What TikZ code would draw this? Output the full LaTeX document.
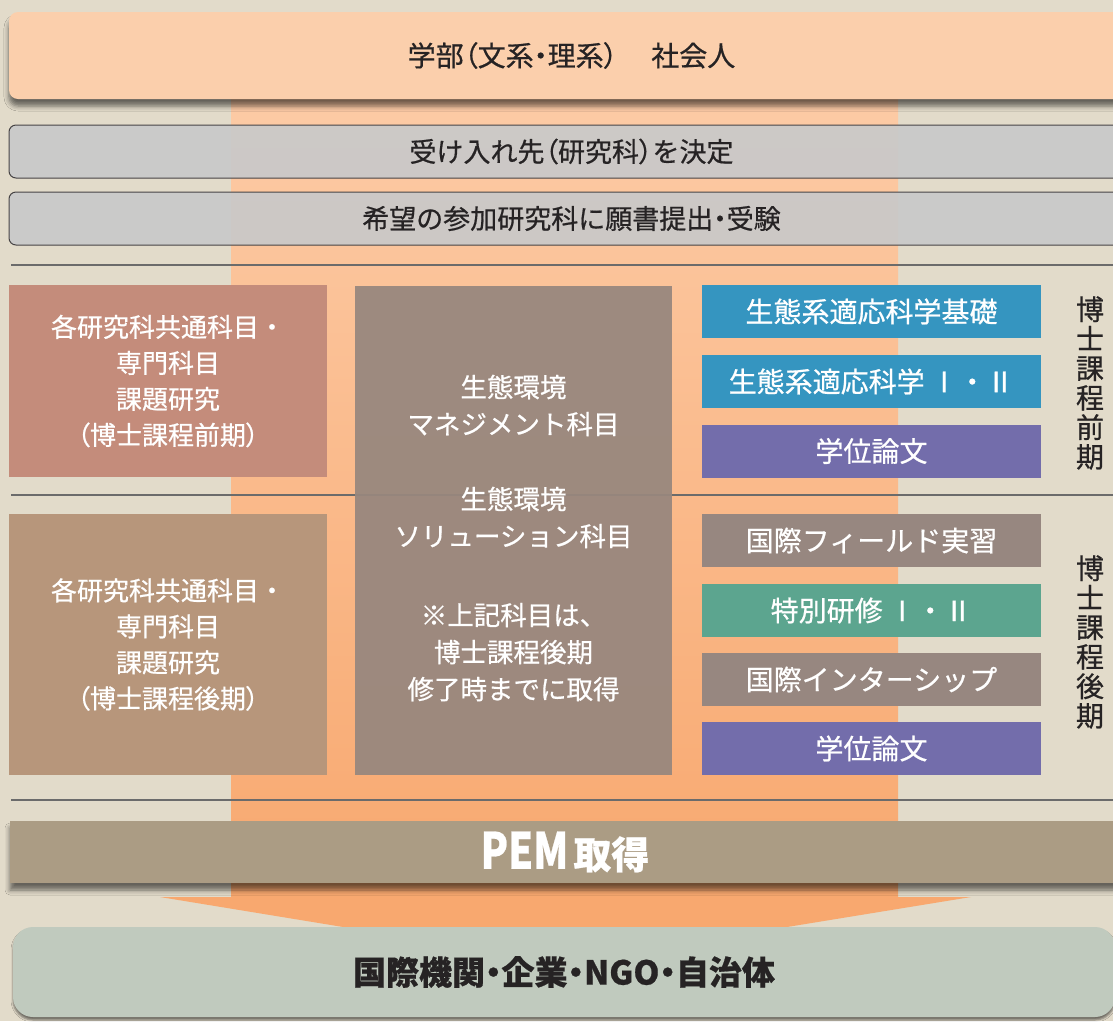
\documentclass[tikz,border=0pt]{standalone}
\usepackage{fontspec}
\setmainfont{Noto Sans CJK JP}[FakeBold=0.6]
\newfontfamily\jpalt{Noto Sans CJK JP}[RawFeature=+palt, FakeBold=0.6]
\newcommand{\jlp}{{\jpalt （}}
\newcommand{\jrp}{{\jpalt ）}}
\newcommand{\jdot}{{\jpalt ・}}
\usetikzlibrary{shadows.blur}
\definecolor{bgbeige}{HTML}{E2DBCA}
\definecolor{topfill}{HTML}{FBCFAC}
\definecolor{greyfill}{HTML}{C9C9C9}
\definecolor{leftafill}{HTML}{C48C7B}
\definecolor{leftbfill}{HTML}{B7967B}
\definecolor{midfill}{HTML}{98877E}
\definecolor{bluefill}{HTML}{3595C0}
\definecolor{purplefill}{HTML}{736DAB}
\definecolor{taupefill}{HTML}{978780}
\definecolor{greenfill}{HTML}{5CA58F}
\definecolor{pemfill}{HTML}{AB9C84}
\definecolor{tealfill}{HTML}{C0CABE}
\definecolor{linegray}{HTML}{6B6B6B}
\definecolor{bandtop}{HTML}{FCCBA6}
\definecolor{bandbottom}{HTML}{F8A86F}
\definecolor{textdark}{HTML}{262324}
\tikzset{
  box/.style={inner sep=0pt, outer sep=0pt, align=center},
  stepbar/.style={box, draw=textdark!85, line width=1pt, fill=greyfill, fill opacity=.93, text opacity=1,
    rounded corners=7pt, minimum height=53pt, text=textdark, font=\fontsize{27}{30}\selectfont},
  leftbox/.style={box, minimum width=318pt, text=white, font=\fontsize{26}{36}\selectfont},
  subject/.style={box, minimum width=339pt, minimum height=53pt, text=white, font=\fontsize{28}{30}\selectfont},
  phase/.style={box, text=textdark, font=\fontsize{28}{29.5}\selectfont},
  rule/.style={draw=linegray, line width=2pt},
  soft shadow/.style={blur shadow={shadow xshift=0pt, shadow yshift=-7pt, shadow blur radius=5pt, shadow opacity=55}}
}
\begin{document}
\begin{tikzpicture}[x=1pt, y=-1pt]
\useasboundingbox (0,0) rectangle (1113,1021);
\clip (0,0) rectangle (1113,1021);
\fill[bgbeige] (0,0) rectangle (1113,1021);
% orange band and arrow
\shade[top color=bandtop, bottom color=bandbottom] (231,90) rectangle (898,898);
\fill[bandbottom] (160,897) -- (971,897) -- (738,935) -- (392,935) -- cycle;
% rules
\draw[rule] (11,265) -- (1113,265);
\draw[rule] (11,495) -- (1113,495);
\draw[rule] (11,800) -- (1113,800);
% top
\node[box, fill=topfill, rounded corners=9pt, soft shadow, minimum width=1125pt, minimum height=87pt,
  text=textdark, font=\fontsize{28}{30}\selectfont] (entry) at (571.5,55.5) {学部\jlp 文系\jdot 理系\jrp\hspace{1.2em}社会人};
\node[stepbar, minimum width=1125pt] (accept) at (571.5,151.5) {受け入れ先\jlp 研究科\jrp を決定};
\node[stepbar, minimum width=1125pt] (apply) at (571.5,218.5) {希望の参加研究科に願書提出\jdot 受験};
% left column
\node[leftbox, fill=leftafill, minimum height=192pt] (commonA) at (168,381)
  {各研究科共通科目・\\専門科目\\課題研究\\\jlp 博士課程前期\jrp};
\node[leftbox, fill=leftbfill, minimum height=261pt] (commonB) at (168,644.5)
  {各研究科共通科目・\\専門科目\\課題研究\\\jlp 博士課程後期\jrp};
% middle column
\node[box, fill=midfill, fill opacity=.94, minimum width=317pt, minimum height=489pt] (eco) at (513.5,530.5) {};
\node[box, text=white, font=\fontsize{26.5}{37}\selectfont] (ecotext) at (513.5,538)
  {生態環境\\マネジメント科目\\[38pt]生態環境\\ソリューション科目\\[42pt]※上記科目は、\\博士課程後期\\修了時までに取得};
% right column
\node[subject, fill=bluefill] (basic) at (871.5,311.5) {生態系適応科学基礎};
\node[subject, fill=bluefill] (adapt) at (871.5,381.5) {生態系適応科学\hspace{.2em}Ⅰ・Ⅱ};
\node[subject, fill=purplefill] (thesisA) at (871.5,451) {学位論文};
\node[subject, fill=taupefill] (field) at (871.5,540.5) {国際フィールド実習};
\node[subject, fill=greenfill] (special) at (871.5,610.5) {特別研修\hspace{.2em}Ⅰ・Ⅱ};
\node[subject, fill=taupefill] (intern) at (871.5,679.5) {国際インターシップ};
\node[subject, fill=purplefill] (thesisB) at (871.5,748.5) {学位論文};
% phases
\node[phase] (early) at (1090,383) {博\\士\\課\\程\\前\\期};
\node[phase] (late) at (1090,642) {博\\士\\課\\程\\後\\期};
% bottom
\node[box, fill=pemfill, soft shadow, minimum width=1110pt, minimum height=62pt, text=white,
  font=\fontsize{50}{52}\bfseries\selectfont] (pem) at (565,852) {\scalebox{.8}[1]{PEM}\hspace{.1em}{\fontsize{38}{40}\selectfont 取得}};
\node[box, fill=tealfill, rounded corners=20pt, blur shadow={shadow xshift=0pt, shadow yshift=-3pt, shadow blur radius=2pt, shadow opacity=50},
  minimum width=1102pt, minimum height=90pt, text=textdark, font=\fontsize{33}{36}\bfseries\selectfont] (career) at (564,972)
  {国際機関\jdot 企業\jdot NGO\jdot 自治体};
\end{tikzpicture}
\end{document}
